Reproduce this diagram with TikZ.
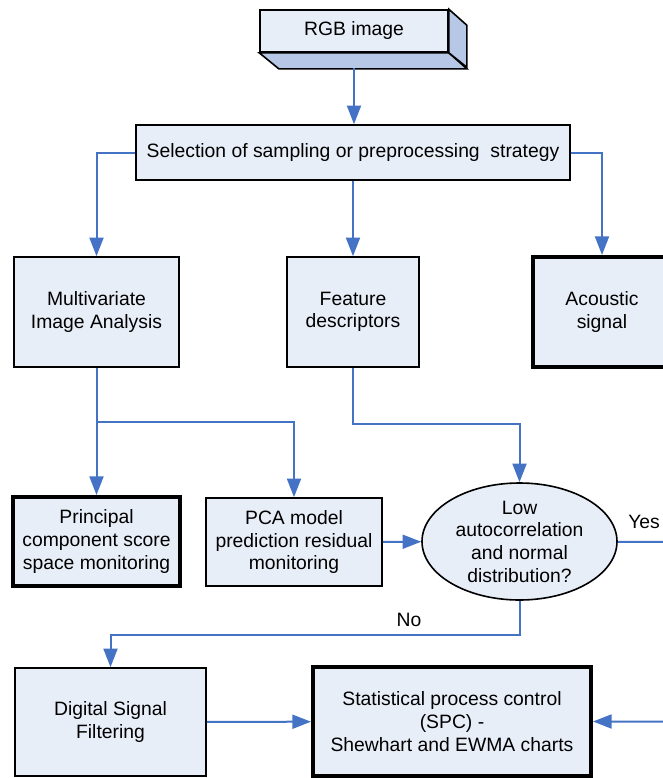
\documentclass[tikz,border=0pt]{standalone}
\usepackage{fontspec}
\setmainfont{Liberation Sans}
\usepackage{tikz}
\usetikzlibrary{arrows.meta,shapes.geometric}

\definecolor{boxfill}{RGB}{232,238,248}
\definecolor{sidefill}{RGB}{182,200,230}
\definecolor{linkblue}{RGB}{68,114,196}

\begin{document}
\begin{tikzpicture}[x=0.75pt,y=-0.75pt,
    every node/.style={font=\fontsize{14.5}{17}\selectfont},
    box/.style={draw=black,line width=1.2pt,fill=boxfill,align=center,inner sep=0pt},
    heavybox/.style={box,line width=3pt},
    cond/.style={box,ellipse,inner ysep=-3pt},
    lbl/.style={inner sep=0pt},
    conn/.style={draw=linkblue,line width=1.5pt,-{Triangle[length=14pt,width=10.5pt]}}]
  \useasboundingbox (0,0) rectangle (663,778);
  \clip (0,0) rectangle (663,778);

  % source
      \draw (354,31) node[box,minimum width=141pt,minimum height=31.5pt] (rgb) {RGB image};
  \filldraw[fill=sidefill,line width=1.2pt] (rgb.south west) -- (rgb.south east) -- ++(18,16) -- ++(-188,0) -- cycle;
  \filldraw[fill=sidefill,line width=1.2pt] (rgb.north east) -- ++(18,16) -- ++(0,42) -- (rgb.south east) -- cycle;
  \coordinate (rgbb) at (354,68);
  \draw (353,152.5) node[box,minimum width=325.5pt,minimum height=41.25pt] (sel) {Selection of sampling or preprocessing\ \ strategy};

  % second row
  \draw (96.5,312) node[box,minimum width=123.75pt,minimum height=82.5pt] (mia) {Multivariate\\Image Analysis};
  \draw (353,312) node[box,minimum width=99pt,minimum height=82.5pt] (feat) {Feature\\descriptors};
  \draw (602,312) node[heavybox,minimum width=103.5pt,minimum height=82.5pt] (acou) {Acoustic\\signal};

  % third row
  \draw (96.5,541.5) node[heavybox,minimum width=125.25pt,minimum height=66.75pt] (pcs) {Principal\\component score\\space monitoring};
  \draw (294,542) node[box,minimum width=132pt,minimum height=66pt] (pca) {PCA model\\prediction residual\\monitoring};
  \draw (519.5,541.5) node[cond,minimum width=146.25pt,minimum height=87.75pt] (dec) {Low\\autocorrelation\\and normal\\distribution?};

  % last row
  \draw (110.5,722) node[box,minimum width=143.25pt,minimum height=81pt] (dsf) {Digital Signal\\Filtering};
  \draw (452,721.5) node[heavybox,minimum width=208.5pt,minimum height=81.75pt] (spc) {Statistical process control\\(SPC) -\\Shewhart and EWMA charts};

  \draw (628,522) node[lbl,anchor=west] (yes) {Yes};
  \draw (409,620) node[lbl] (no) {No};

  \coordinate (split) at (96.5,422);
  \coordinate (featturn) at (353,424);
  \coordinate (noturn) at (519.5,635);
  \coordinate (yesturn) at (700,542);

     \draw[conn] (rgbb) -- (rgbb |- sel.north);
     \draw[conn] (sel.west) -| (mia);
     \draw[conn] (sel) -- (feat);
     \draw[conn] (sel.east) -| (acou);
     \draw[conn] (mia) -- (pcs);
     \draw[conn] (split) -| (pca);
     \draw[conn] (feat) -- (featturn) -| (dec);
     \draw[conn] (pca) -- (dec);
     \draw[conn] (dec) -- (noturn) -| (dsf);
     \draw[conn] (dec) -- (yesturn) |- (spc);
     \draw[conn] (dsf) -- (spc);
\end{tikzpicture}
\end{document}
